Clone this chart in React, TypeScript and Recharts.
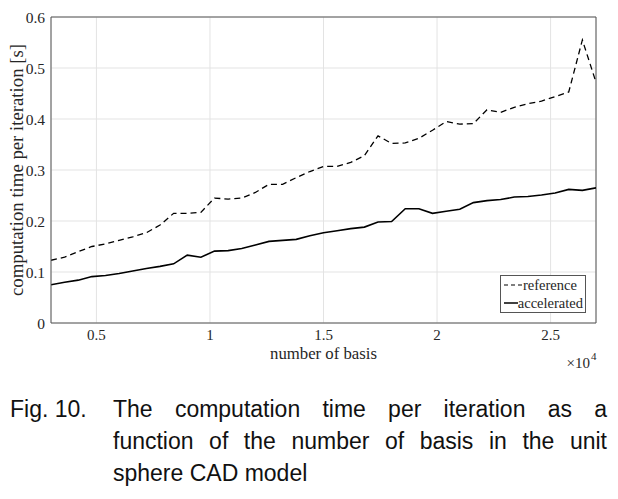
import { CartesianGrid, Label, Legend, Line, LineChart, ReferenceLine, XAxis, YAxis } from 'recharts';

const basis = [
  3000, 3600, 4200, 4800, 5400, 6000, 6600, 7200, 7800, 8400, 9000, 9600, 10200, 10800,
  11400, 12000, 12600, 13200, 13800, 14400, 15000, 15600, 16200, 16800, 17400, 18000,
  18600, 19200, 19800, 20400, 21000, 21600, 22200, 22800, 23400, 24000, 24600, 25200,
  25800, 26400, 27000,
];

const referenceTimes = [
  0.123, 0.129, 0.14, 0.15, 0.155, 0.162, 0.169, 0.177, 0.192, 0.215, 0.215, 0.217, 0.245,
  0.243, 0.245, 0.256, 0.272, 0.272, 0.285, 0.297, 0.307, 0.307, 0.315, 0.328, 0.367, 0.352,
  0.353, 0.362, 0.378, 0.395, 0.39, 0.391, 0.418, 0.413, 0.423, 0.43, 0.435, 0.444, 0.453,
  0.555, 0.472,
];

const acceleratedTimes = [
  0.075, 0.08, 0.084, 0.091, 0.093, 0.097, 0.102, 0.107, 0.111, 0.116, 0.133, 0.129, 0.141,
  0.142, 0.146, 0.153, 0.16, 0.162, 0.164, 0.171, 0.177, 0.181, 0.185, 0.188, 0.198, 0.199,
  0.224, 0.224, 0.215, 0.219, 0.223, 0.236, 0.24, 0.242, 0.247, 0.248, 0.251, 0.255, 0.262,
  0.26, 0.265,
];

const xTicks = [5000, 10000, 15000, 20000, 25000];
const yTicks = [0, 0.1, 0.2, 0.3, 0.4, 0.5, 0.6];

const data = basis.map((b, i) => ({
  basis: b,
  reference: referenceTimes[i],
  accelerated: acceleratedTimes[i],
}));

const serif = 'Liberation Serif, Times New Roman, serif';
const ink = '#262626';
const frame = '#555';

function LegendBox() {
  const row = { display: 'flex', alignItems: 'center', height: 18 } as const;
  return (
    <div
      style={{
        border: `1px solid ${frame}`,
        background: '#fff',
        fontFamily: serif,
        fontSize: 14.5,
        color: ink,
        padding: '0 2px',
        width: 80,
      }}
    >
      <div style={row}>
        <svg width={20} height={10}>
          <line x1={1} y1={5} x2={19} y2={5} stroke="#000" strokeWidth={1.2} strokeDasharray="4 3" />
        </svg>
        <span>reference</span>
      </div>
      <div style={row}>
        <svg width={20} height={10}>
          <line x1={1} y1={5} x2={19} y2={5} stroke="#000" strokeWidth={1.5} />
        </svg>
        <span>accelerated</span>
      </div>
    </div>
  );
}

export default function App() {
  return (
    <div style={{ position: 'absolute', left: 0, top: 0, width: 618, height: 499, background: '#fff' }}>
      <LineChart width={618} height={370} data={data} margin={{ top: 17, right: 22, left: 0, bottom: 0 }}>
        <CartesianGrid stroke="#e3e3e3" />
        <XAxis
          dataKey="basis"
          type="number"
          domain={[3000, 27000]}
          ticks={xTicks}
          tickFormatter={(v: number) => `${v / 10000}`}
          height={47}
          tickLine={false}
          tickMargin={0}
          stroke={frame}
          tick={{ fill: ink, fontSize: 15, fontFamily: serif }}
          allowDataOverflow
        >
          <Label
            content={({ viewBox }: any) => {
              const cx = viewBox.x + viewBox.width / 2;
              const right = viewBox.x + viewBox.width;
              return (
                <g fill={ink} fontFamily={serif}>
                  <text
                    x={cx}
                    y={359}
                    textAnchor="middle"
                    fontSize={17}
                    textLength={107}
                    lengthAdjust="spacingAndGlyphs"
                  >
                    number of basis
                  </text>
                  <text x={right - 6} y={368} textAnchor="end" fontSize={15}>
                    ×10
                  </text>
                  <text x={right - 5} y={360} fontSize={11}>
                    4
                  </text>
                </g>
              );
            }}
          />
        </XAxis>
        <YAxis
          domain={[0, 0.6]}
          ticks={yTicks}
          tickFormatter={(v: number) => (v === 0 ? '0' : v.toFixed(1))}
          width={51}
          tickLine={false}
          tickMargin={0}
          stroke={frame}
          tick={{ fill: ink, fontSize: 15.5, fontFamily: serif }}
        >
          <Label
            content={({ viewBox }: any) => {
              const cy = viewBox.y + viewBox.height / 2;
              return (
                <text
                  x={23}
                  y={cy}
                  transform={`rotate(-90 23 ${cy})`}
                  textAnchor="middle"
                  fill={ink}
                  fontFamily={serif}
                  fontSize={18.5}
                  textLength={252}
                  lengthAdjust="spacingAndGlyphs"
                >
                  computation time per iteration [s]
                </text>
              );
            }}
          />
        </YAxis>
        <ReferenceLine y={0.6} stroke={frame} />
        <ReferenceLine x={27000} stroke={frame} />
        <Line
          dataKey="reference"
          stroke="#000"
          strokeWidth={1.3}
          strokeDasharray="6 4"
          dot={false}
          isAnimationActive={false}
        />
        <Line dataKey="accelerated" stroke="#000" strokeWidth={1.6} dot={false} isAnimationActive={false} />
        <Legend
          layout="horizontal"
          verticalAlign="middle"
          content={() => <LegendBox />}
          wrapperStyle={{ position: 'absolute', left: 500, top: 275, width: 86, height: 37 }}
        />
      </LineChart>
      <div
        style={{
          position: 'absolute',
          left: 10,
          top: 393,
          width: 597,
          fontFamily: 'Liberation Sans, Arial, sans-serif',
          fontSize: 23,
          lineHeight: '32px',
          color: '#111',
        }}
      >
        <div style={{ display: 'flex' }}>
          <span style={{ width: 103, flex: 'none' }}>Fig. 10.</span>
          <span style={{ flex: 1, textAlign: 'justify', textAlignLast: 'justify' }}>
            The computation time per iteration as a
          </span>
        </div>
        <div style={{ marginLeft: 103, textAlign: 'justify', textAlignLast: 'justify' }}>
          function of the number of basis in the unit
        </div>
        <div style={{ marginLeft: 103 }}>sphere CAD model</div>
      </div>
    </div>
  );
}
